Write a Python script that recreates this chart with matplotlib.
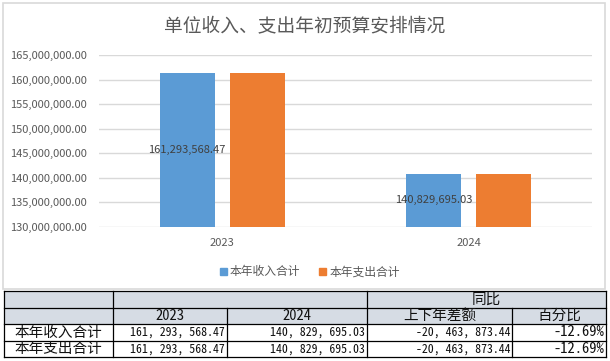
import numpy as np
import matplotlib
matplotlib.use('Agg')
import matplotlib.pyplot as plt
from matplotlib.patches import Rectangle, Patch
from matplotlib.ticker import FuncFormatter, MultipleLocator

plt.rcParams['font.family'] = ['Noto Sans CJK SC', 'DejaVu Sans']

# dados do grafico
anos = ['2023', '2024']
series = ['本年收入合计', '本年支出合计']
receita = [161293568.47, 140829695.03]
despesa = [161293568.47, 140829695.03]
cores = ['#5B9BD5', '#ED7D31']

# dados da tabela
tab_linhas = ['本年收入合计', '本年支出合计']
tab_2023 = ['161, 293, 568.47', '161, 293, 568.47']
tab_2024 = ['140, 829, 695.03', '140, 829, 695.03']
tab_dif = ['-20, 463, 873.44', '-20, 463, 873.44']
tab_pct = ['-12.69%', '-12.69%']

W, H = 610, 361
fig = plt.figure(figsize=(W / 100, H / 100), dpi=100)

# moldura do grafico
fig.patches.append(Rectangle((3 / W, 1 - 289 / H), 602 / W, 286 / H,
                             transform=fig.transFigure, fill=False,
                             ec='#D9D9D9', lw=1.2))

fig.text(305 / W, 1 - 26 / H, '单位收入、支出年初预算安排情况',
         ha='center', va='center', fontsize=13.5, color='#595959')

ax = fig.add_axes([99 / W, 1 - 227 / H, 493 / W, 172 / H])
x = np.arange(len(anos))
larg = 0.223
desl = 0.142
ax.bar(x - desl, receita, larg, color=cores[0], zorder=2)
ax.bar(x + desl, despesa, larg, color=cores[1], zorder=2)
ax.set_ylim(130e6, 165e6)
ax.set_xlim(-0.5, 1.5)
ax.yaxis.set_major_locator(MultipleLocator(5e6))
ax.yaxis.set_major_formatter(FuncFormatter(lambda v, p: f'{v:,.2f}'))
ax.grid(axis='y', color='#D9D9D9', lw=1, zorder=0)
for s in ax.spines.values():
    s.set_visible(False)
ax.tick_params(length=0, labelsize=8, labelcolor='#595959')
ax.tick_params(axis='y', pad=8.5)
ax.tick_params(axis='x', pad=8)
ax.set_xticks(x, anos)

# rotulos so na serie azul
y0 = ax.get_ylim()[0]
for xi, v in zip(x, receita):
    ax.text(xi - desl, (y0 + v) / 2, f'{v:,.2f}', ha='center', va='center',
            fontsize=8, color='#404040', zorder=3)

handles = [Patch(color=c, label=s) for c, s in zip(cores, series)]
fig.legend(handles=handles, loc='center', bbox_to_anchor=(310 / W, 1 - 272 / H),
           ncol=2, frameon=False, fontsize=8.5, handlelength=0.55,
           handleheight=0.55, handletextpad=0.3, columnspacing=1.6,
           labelcolor='#595959')

# tabela desenhada em coordenadas de pixel
tx = fig.add_axes([0, 0, 1, 1])
tx.set_xlim(0, W)
tx.set_ylim(H, 0)
tx.axis('off')
tx.patch.set_alpha(0)

cols = [4, 113, 227, 367, 512, 606]
rows = [291, 308, 324, 341, 357]
tx.add_patch(Rectangle((cols[0], rows[0]), cols[-1] - cols[0], rows[2] - rows[0],
                       fc='#D6DCE4', ec='none'))
lk = dict(color='black', lw=0.9)
for r in rows:
    tx.plot([cols[0], cols[-1]], [r, r], **lk)
for c in [cols[0], cols[1], cols[3], cols[-1]]:
    tx.plot([c, c], [rows[0], rows[-1]], **lk)
for c in [cols[2], cols[4]]:
    tx.plot([c, c], [rows[1], rows[-1]], **lk)

mono = ['Noto Sans Mono CJK SC', 'DejaVu Sans Mono']
cy = lambda i: (rows[i] + rows[i + 1]) / 2
cx = lambda j: (cols[j] + cols[j + 1]) / 2

tx.text((cols[3] + cols[5]) / 2, cy(0), '同比', ha='center', va='center',
        fontsize=10.5, color='#111111')
tx.text(cx(1), cy(1), anos[0], ha='center', va='center', fontsize=10.5,
        family=mono, color='#111111')
tx.text(cx(2), cy(1), anos[1], ha='center', va='center', fontsize=10.5,
        family=mono, color='#111111')
tx.text(cx(3), cy(1), '上下年差额', ha='center', va='center', fontsize=10.5,
        color='#111111')
tx.text(cx(4), cy(1), '百分比', ha='center', va='center', fontsize=10.5,
        color='#111111')

for i in range(2):
    tx.text(cx(0), cy(i + 2), tab_linhas[i], ha='center', va='center',
            fontsize=10.5, color='#111111')
    for j, col in enumerate([tab_2023, tab_2024, tab_dif, tab_pct]):
        tx.text(cols[j + 2] - 2, cy(i + 2), col[i], ha='right', va='center',
                fontsize=8.5 if j < 3 else 10.5, family=mono, color='#111111')

fig.savefig('out.png', dpi=100)
